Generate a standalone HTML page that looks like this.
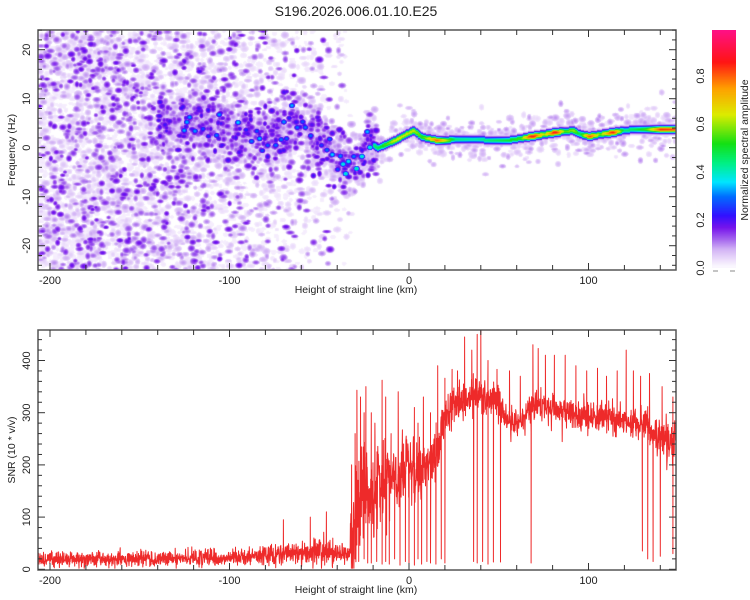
<!DOCTYPE html>
<html><head><meta charset="utf-8">
<style>
html,body{margin:0;padding:0;background:#fff;}
#wrap{position:relative;width:750px;height:600px;overflow:hidden;font-family:"Liberation Sans",sans-serif;}
canvas{position:absolute;}
svg{position:absolute;left:0;top:0;}
text{font-family:"Liberation Sans",sans-serif;fill:#222;}
</style></head>
<body>
<div id="wrap">
<canvas id="hm" width="638" height="240" style="left:38px;top:30px"></canvas>
<canvas id="cb" width="24" height="238" style="left:712px;top:30px"></canvas>
<svg id="svg" width="750" height="600"></svg>
</div>
<script>
// ---------- data ----------
const ridgeKm  = [-130,-124,-110,-97,-80,-65,-55,-42,-36,-28,-23,-18,-8,2,7,15,25,36,45,55,62,68,75,81,86,91,95,100,106,113,119,125,132,140,149];
const ridgeHz  = [5.5,5.6,4.5,3.2,1.6,5.0,3.0,-1.1,-3.9,-2.0,1.6,0.0,1.6,3.6,2.2,1.6,1.7,1.8,1.6,1.6,2.0,2.4,2.8,3.2,3.4,3.6,2.8,2.4,2.8,3.2,3.6,3.8,3.8,3.8,3.9];
const ridgeAmp = [0.24,0.3,0.26,0.32,0.29,0.32,0.26,0.34,0.36,0.38,0.42,0.47,0.64,0.62,0.52,0.8,0.45,0.42,0.46,0.5,0.55,0.88,0.6,0.88,0.55,0.6,0.45,0.82,0.55,0.86,0.45,0.48,0.55,0.85,0.82];

const snrKm     = [-207,-150,-100,-80,-60,-50,-40,-34,-31,-28,-24,-20,-15,-10,-5,0,5,10,15,18,21,25,30,35,40,45,50,53,58,63,68,72,80,90,100,110,120,127,133,138,142,145,149];
const snrBase   = [20,20,22,27,32,33,30,30,90,140,150,150,160,170,185,190,195,205,210,260,300,315,320,330,335,330,320,290,280,285,310,318,305,300,290,290,285,280,275,260,250,240,260];
const snrSpread = [12,12,13,16,20,22,18,18,80,90,80,70,60,55,50,45,45,45,45,40,32,30,30,30,30,30,30,28,28,28,28,28,26,26,26,26,26,26,28,30,30,30,30];
const spikeUpKm  = [-70,-55,-46,-32,-30,-29,-27,-25,-24,-21,-19,-15,-13,-10,-6,-3,3,5,8,12,16,20,24,27,31,35,38,40,44,49,56,62,69,72,76,81,87,93,99,105,110,116,121,125,129,134,141,147];
const spikeUpVal = [95,100,110,200,260,343,330,300,350,300,280,362,330,260,340,240,310,280,330,300,390,366,383,380,445,420,450,458,400,383,380,370,430,423,410,410,410,390,380,385,370,380,420,380,370,375,350,330];
const spikeDownKm  = [-30,-28,-25,-23,-21,-18,-15,-13,-11,-8,-5,-2,0,3,5,7,10,12,15,18,20,36,38,41,44,47,51,68,130,133,136,140,147];
const spikeDownVal = [20,15,20,12,12,15,10,15,10,20,8,15,10,8,20,10,15,12,10,20,12,15,12,15,10,14,14,12,35,20,15,25,30];

const xTicks=[-200,-100,0,100];
const fTicks=[-20,-10,0,10,20];
const sTicks=[0,100,200,300,400];
const cbTicks=[0.0,0.2,0.4,0.6,0.8];

// ---------- scales ----------
const L=38,R=676;
const kmMin=(L-409)/1.795, kmMax=(R-409)/1.795;
function X(km){return 409+km*1.795;}
const T1=30,B1=270, fMax=(147.7-T1)/4.9, fMin=(147.7-B1)/4.9;
function Y1(f){return 147.7-f*4.9;}
const T2=330,B2=570;
function Y2(v){return 569.3-v*0.522;}
function CBY(v){return 268-v*240;}

function mulberry32(a){return function(){a|=0;a=a+0x6D2B79F5|0;let t=Math.imul(a^a>>>15,1|a);t=t+Math.imul(t^t>>>7,61|t)^t;return((t^t>>>14)>>>0)/4294967296;}}
const rnd=mulberry32(12345);
function gauss(){let u=rnd()||1e-9,v=rnd();return Math.sqrt(-2*Math.log(u))*Math.cos(2*Math.PI*v);}
function interp(xs,ys,x){if(x<=xs[0])return ys[0];for(let i=1;i<xs.length;i++){if(x<=xs[i]){const t=(x-xs[i-1])/(xs[i]-xs[i-1]);return ys[i-1]+t*(ys[i]-ys[i-1]);}}return ys[ys.length-1];}

// ---------- colormap ----------
const stops=[[0,255,255,255],[0.03,240,228,252],[0.08,210,178,245],[0.12,166,104,238],[0.17,118,20,236],[0.22,50,16,255],[0.3,0,110,255],[0.36,0,230,255],[0.44,0,240,130],[0.52,20,224,20],[0.64,220,236,0],[0.75,255,160,0],[0.86,255,20,20],[1,255,16,140]];
function cmap(v){if(v<=0)return[255,255,255];for(let i=1;i<stops.length;i++){if(v<=stops[i][0]){const a=stops[i-1],b=stops[i],t=(v-a[0])/(b[0]-a[0]);return[a[1]+t*(b[1]-a[1]),a[2]+t*(b[2]-a[2]),a[3]+t*(b[3]-a[3])];}}const s=stops[stops.length-1];return[s[1],s[2],s[3]];}

// ---------- heatmap ----------
const W=638,H=240,buf=new Float32Array(W*H);
function splat(cx,cy,rx,ry,a){
  for(let py=Math.floor(cy-ry);py<=cy+ry;py++){if(py<0||py>=H)continue;
    for(let px=Math.floor(cx-rx);px<=cx+rx;px++){if(px<0||px>=W)continue;
      const d2=((px-cx)/rx)**2+((py-cy)/ry)**2; if(d2>=1)continue;
      const v=a*Math.pow(1-d2,0.6); const k=py*W+px; if(v>buf[k])buf[k]=v;}}}
function ridgeF(km){return interp(ridgeKm,ridgeHz,km);}
function ridgeA(km){return interp(ridgeKm,ridgeAmp,km);}
// background speckle
for(let i=0;i<9000;i++){
  const km=kmMin+rnd()*215, f=fMin+rnd()*(fMax-fMin);
  let p=Math.pow(Math.min(1,Math.max(0,(-30-km)/150)),0.85);
  if(km>-62&&km<-38)p=Math.max(p,0.12);
  if(rnd()<p){const a=0.02+Math.pow(rnd(),3.5)*0.17;splat(X(km)-L,Y1(f)-T1,2.5+rnd()*2.5,2+rnd()*2,a);}
}
// left ridge cloud
for(let i=0;i<1300;i++){
  const km=-140+rnd()*122, f=ridgeF(km)+gauss()*3.2;
  splat(X(km)-L,Y1(f)-T1,2.5+rnd()*2,2.5+rnd()*1.5,0.06+Math.pow(rnd(),2.5)*0.16);
}
for(let km=-130;km<-18;km+=1.5){
  if(rnd()<0.55){const f=ridgeF(km)+gauss()*1.5;splat(X(km)-L,Y1(f)-T1,3.5,3,ridgeA(km)*(0.75+rnd()*0.45));}
}
// right halo
for(let i=0;i<600;i++){
  const km=-25+rnd()*174, f=ridgeF(km)+gauss()*2.3;
  splat(X(km)-L,Y1(f)-T1,2.5+rnd()*2,2+rnd()*2,0.03+rnd()*0.07);
}
// right ridge continuous
for(let km=-20;km<=149;km+=0.25){
  const a=ridgeA(km),cy=Y1(ridgeF(km))-T1,cx=Math.round(X(km)-L);
  for(let dy=-9;dy<=9;dy++){const py=Math.round(cy+dy);if(py<0||py>=H)continue;
    const v=a*Math.exp(-(dy*dy)/(2*2.4*2.4));
    for(let dx=0;dx<2;dx++){const px=cx+dx;if(px<0||px>=W)continue;const k=py*W+px;if(v>buf[k])buf[k]=v;}}
}
(function(){const c=document.getElementById('hm').getContext('2d');const img=c.createImageData(W,H);
for(let i=0;i<W*H;i++){const v=buf[i];const col=v<0.015?[255,255,255]:cmap(v);img.data[i*4]=col[0];img.data[i*4+1]=col[1];img.data[i*4+2]=col[2];img.data[i*4+3]=255;}
c.putImageData(img,0,0);
const cb=document.getElementById('cb').getContext('2d');const ci=cb.createImageData(24,238);
for(let y=0;y<238;y++){const v=Math.max(0.01,(268-(30+y))/240);const col=cmap(v);for(let x=0;x<24;x++){const k=(y*24+x)*4;ci.data[k]=col[0];ci.data[k+1]=col[1];ci.data[k+2]=col[2];ci.data[k+3]=255;}}
cb.putImageData(ci,0,0);})();

// ---------- SVG ----------
const NS='http://www.w3.org/2000/svg',svg=document.getElementById('svg');
function el(tag,attrs,parent){const e=document.createElementNS(NS,tag);for(const k in attrs)e.setAttribute(k,attrs[k]);(parent||svg).appendChild(e);return e;}
function txt(s,x,y,size,rot,anchor){const t=el('text',{x:x,y:y,'font-size':size,'text-anchor':anchor||'middle'});if(rot)t.setAttribute('transform','rotate('+rot+' '+x+' '+y+')');t.textContent=s;return t;}

// SNR line
const pts=[];
for(let km=kmMin;km<=kmMax;km+=0.14){
  let v=interp(snrKm,snrBase,km)+gauss()*0.6*interp(snrKm,snrSpread,km);
  pts.push([km,Math.max(2,v)]);
}
function addSpike(km,val){const b=interp(snrKm,snrBase,km);pts.push([km-0.12,b],[km,val],[km+0.12,b]);}
for(let i=0;i<spikeUpKm.length;i++)addSpike(spikeUpKm[i],spikeUpVal[i]);
for(let i=0;i<spikeDownKm.length;i++)addSpike(spikeDownKm[i],spikeDownVal[i]);
pts.sort((a,b)=>a[0]-b[0]);
const clip=el('clipPath',{id:'c2'});el('rect',{x:L,y:T2,width:R-L,height:B2-T2},clip);
const line=el('polyline',{points:pts.map(p=>X(p[0]).toFixed(1)+','+Y2(Math.min(458,p[1])).toFixed(1)).join(' '),fill:'none',stroke:'#ee2a2a','stroke-width':1,'stroke-linejoin':'round','clip-path':'url(#c2)'});



// frames & ticks
function frame(top,bot,yTicks,yScale,minorStep,majorStep,vmin,vmax,name){
  const g=el('g',{});
  el('rect',{x:L,y:top,width:R-L,height:bot-top,fill:'none',stroke:'#555','stroke-width':1.5},g);
  for(let km=-200;km<=140;km+=20){const x=X(km),len=(km%100===0)?7:5;
    el('line',{x1:x,y1:bot,x2:x,y2:bot-len,stroke:'#333','stroke-width':1},g);
    el('line',{x1:x,y1:top,x2:x,y2:top+len,stroke:'#333','stroke-width':1},g);}
  for(let v=Math.ceil(vmin/minorStep)*minorStep;v<=vmax;v+=minorStep){const y=yScale(v),len=(Math.abs(v%majorStep)<1e-6)?7:4;
    el('line',{x1:L,y1:y,x2:L+len,y2:y,stroke:'#333','stroke-width':1},g);
    el('line',{x1:R,y1:y,x2:R-len,y2:y,stroke:'#333','stroke-width':1},g);}
  xTicks.forEach(k=>{const t=txt(String(k),X(k),bot+14,11);});
  yTicks.forEach(v=>{const t=txt(String(v),30,yScale(v),11,-90);});
}
frame(T1,B1,fTicks,Y1,2,10,fMin,fMax,'spectrogram-axes');
frame(T2,B2,sTicks,Y2,20,100,0,458,'snr-axes');

let t;
t=txt('S196.2026.006.01.10.E25',356,16,14);
t=txt('Height of straight line (km)',356,293,10.5);
t=txt('Height of straight line (km)',356,593,10.5);
t=txt('Frequency (Hz)',15,150,10.5,-90);
t=txt('SNR (10 * v/v)',15,450,10.5,-90);
t=txt('Normalized spectral amplitude',748,150,10.5,-90);
cbTicks.forEach(v=>{const t=txt(v.toFixed(1),704,CBY(v),11,-90);});
el('line',{x1:713,y1:271,x2:718,y2:271,stroke:'#888'});el('line',{x1:730,y1:271,x2:735,y2:271,stroke:'#888'});
</script>
</body></html>
